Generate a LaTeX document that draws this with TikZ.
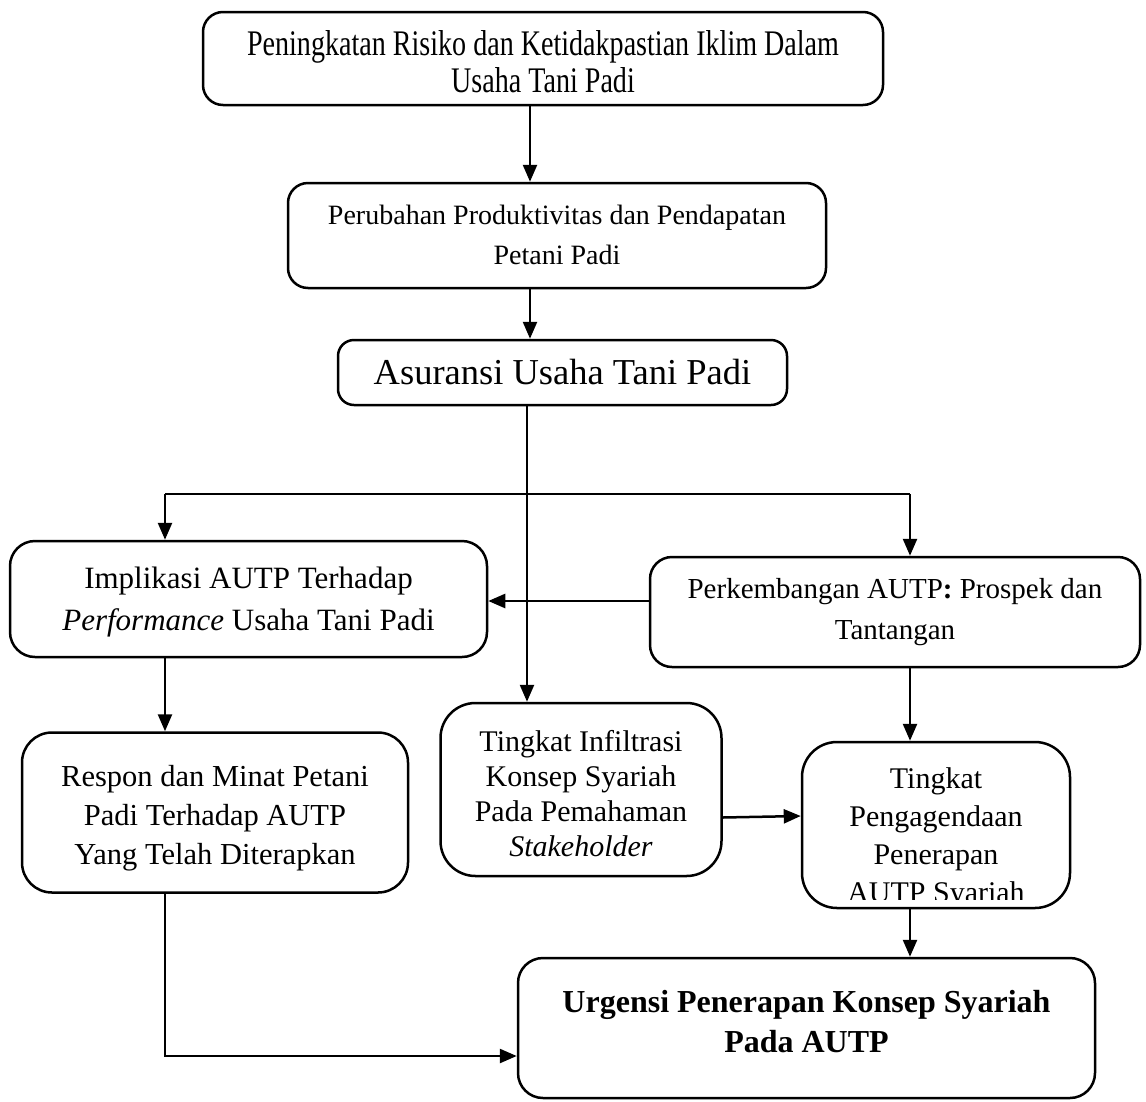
\documentclass[tikz,border=0pt]{standalone}
\usepackage{fontspec}
\setmainfont{Liberation Serif}
\newfontfamily\condfont[FakeStretch=0.78]{Liberation Serif}
\usetikzlibrary{arrows.meta}
\begin{document}
\begin{tikzpicture}[x=1pt,y=-1pt,
  box/.style={draw, line width=2.5pt, rounded corners=20pt, inner sep=0pt},
  lbl/.style={align=center, inner sep=0pt},
  arr/.style={line width=2.5pt, -{Triangle[length=17pt,width=14pt]}},
  ln/.style={line width=2.5pt},
  txt/.style={font=\fontsize{30.5}{39}\selectfont}]
\useasboundingbox[fill=white] (0,0) rectangle (1146,1101);

% boxes
\node[box, minimum width=680pt, minimum height=93pt] (top) at (543,58.5) {};
\node[box, minimum width=538pt, minimum height=105pt] (prod) at (557,235.5) {};
\node[box, minimum width=449pt, minimum height=65pt, rounded corners=16pt] (asur) at (562.5,372.5) {};
\node[box, minimum width=477pt, minimum height=116pt, rounded corners=25pt] (impl) at (248.5,599) {};
\node[box, minimum width=490pt, minimum height=110pt, rounded corners=22pt] (perk) at (895,612) {};
\node[box, minimum width=386pt, minimum height=160pt, rounded corners=30pt] (resp) at (215,812.5) {};
\node[box, minimum width=281pt, minimum height=173pt, rounded corners=35pt] (ting) at (581,789.5) {};
\node[box, minimum width=268pt, minimum height=166pt, rounded corners=35pt] (peng) at (936,825) {};
\node[box, minimum width=577pt, minimum height=140pt, rounded corners=25pt] (urg) at (806.5,1028) {};

% texts
\node[lbl, font={\condfont\fontsize{36}{37}\selectfont}] (topT) at (543,62)
  {Peningkatan Risiko dan Ketidakpastian Iklim Dalam\\Usaha Tani Padi};
\node[lbl, font={\fontsize{28}{40}\selectfont}] (prodT) at (557,235)
  {Perubahan Produktivitas dan Pendapatan\\Petani Padi};
\node[lbl, font={\fontsize{36.5}{40}\selectfont}] (asurT) at (562.5,372.5)
  {Asuransi Usaha Tani Padi};
\node[lbl, font={\fontsize{31}{42}\selectfont}] (implT) at (248.5,602.5)
  {Implikasi AUTP Terhadap\\\textit{Performance} Usaha Tani Padi};
\node[lbl, font={\fontsize{29}{41}\selectfont}] (perkT) at (895,612)
  {Perkembangan AUTP\textbf{:} Prospek dan\\Tantangan};
\node[lbl, txt] (respT) at (215,818.5)
  {Respon dan Minat Petani\\Padi Terhadap AUTP\\Yang Telah Diterapkan};
\node[lbl, font={\fontsize{30}{35}\selectfont}] (tingT) at (581,794)
  {Tingkat Infiltrasi\\Konsep Syariah\\Pada Pemahaman\\\textit{Stakeholder}};
\begin{scope}
  \clip (802,742) rectangle (1070,899);
  \node[lbl, font={\fontsize{30}{38}\selectfont}] (pengT) at (936,838)
    {Tingkat\\Pengagendaan\\Penerapan\\AUTP Syariah};
\end{scope}
\node[lbl, font={\bfseries\fontsize{32}{40}\selectfont}] (urgT) at (806.5,1021.5)
  {Urgensi Penerapan Konsep Syariah\\Pada AUTP};

% connectors
\coordinate (cA) at (530,0);
\coordinate (cM) at (527,0);
\coordinate (cL) at (165,494);
\coordinate (cR) at (910,494);
\coordinate (cP) at (0,601);
\coordinate (cB) at (165,1056);

\draw[arr] (top.south -| cA) -- (prod.north -| cA);
\draw[arr] (prod.south -| cA) -- (asur.north -| cA);
\draw[arr] (asur.south -| cM) -- (ting.north -| cM);
\draw[ln] (cL) -- (cR);
\draw[arr] (cL) -- (cL |- impl.north);
\draw[arr] (cR) -- (cR |- perk.north);
\draw[arr] (perk.west |- cP) -- (impl.east |- cP);
\draw[arr] (impl.south -| cL) -- (resp.north -| cL);
\draw[arr] (perk.south -| cR) -- (peng.north -| cR);
\draw[arr] ([yshift=-28pt]ting.east) -- ([yshift=9pt]peng.west);
\draw[arr] (peng.south -| cR) -- (urg.north -| cR);
\draw[arr] (resp.south -| cL) -- (cB) -- (urg.west |- cB);
\end{tikzpicture}
\end{document}
